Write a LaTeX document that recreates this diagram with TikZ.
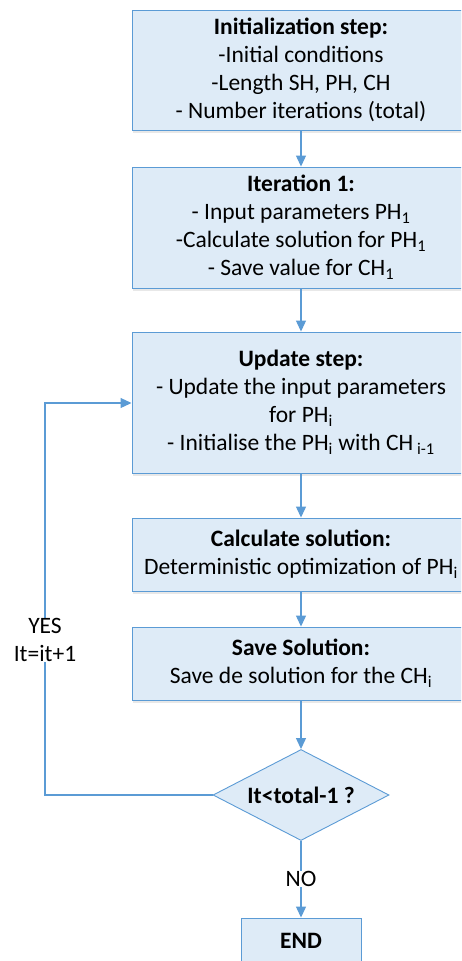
\documentclass[tikz,border=0pt]{standalone}
\usepackage{fontspec}
\setmainfont{Carlito}
\usetikzlibrary{arrows.meta,shapes.geometric,shadows}
\definecolor{flowline}{HTML}{5B9BD5}
\definecolor{flowfill}{HTML}{DEEBF7}
\tikzset{
  stepbox/.style={draw=flowline, fill=flowfill, line width=0.9pt, inner sep=0pt,
    align=center, font=\fontsize{23.5}{28}\selectfont,
    drop shadow={opacity=0.18, shadow xshift=1pt, shadow yshift=-2.5pt}},
  decision/.style={diamond, draw=flowline, fill=flowfill, line width=0.9pt, inner sep=0pt},
  flow/.style={draw=flowline, line width=1.2pt, -{Triangle[length=11pt,width=10pt]}},
  lbl/.style={fill=white, inner sep=0.5pt, align=center, font=\fontsize{23.5}{28}\selectfont}
}
\newcommand{\subx}[1]{\textsubscript{#1}}
\begin{document}
\begin{tikzpicture}[x=1pt,y=-1pt]
\useasboundingbox (0,0) rectangle (461,961);
\clip (0,0) rectangle (461,961);

\node[stepbox, minimum width=338pt, minimum height=120pt] (init) at (301,70)
  {\textbf{Initialization step:}\\-Initial conditions\\-Length SH, PH, CH\\- Number iterations (total)};
\node[stepbox, minimum width=338pt, minimum height=121pt] (iter) at (301,227.5)
  {\textbf{Iteration 1:}\\- Input parameters PH\subx{1}\\-Calculate solution for PH\subx{1}\\- Save value for CH\subx{1}};
\node[stepbox, minimum width=338pt, minimum height=141pt] (upd) at (301,402.5)
  {\textbf{Update step:}\\- Update the input parameters\\for PH\subx{i}\\- Initialise the PH\subx{i} with CH\,\subx{i-1}};
\node[stepbox, minimum width=338pt, minimum height=73pt] (calc) at (301,554.5)
  {\textbf{Calculate solution:}\\Deterministic optimization of PH\subx{i}};
\node[stepbox, minimum width=338pt, minimum height=73pt] (save) at (301,663.5)
  {\textbf{Save Solution:}\\Save de solution for the CH\subx{i}};
\node[decision, minimum width=176pt, minimum height=91pt,
  label={[font=\fontsize{23.5}{28}\selectfont\bfseries, inner sep=0pt]center:It<total-1 ?}] (test) at (301,795) {};
\node[stepbox, minimum width=120pt, minimum height=46pt, font=\fontsize{23.5}{28}\selectfont\bfseries] (end) at (301,941) {END};

\coordinate (loopbot) at (45,795);
\coordinate (looptop) at (45,403);
\coordinate (updin) at (131.5,403);

\draw[flow] (init) -- (iter);
\draw[flow] (iter) -- (upd);
\draw[flow] (upd) -- (calc);
\draw[flow] (calc) -- (save);
\draw[flow] (save) -- (test);
\draw[flow] (test) -- node[lbl, pos=0.5] (no) {NO} (end);
\draw[flow] (test.west) -- (loopbot) -- node[lbl, pos=0.395] (yes) {YES\\It=it+1} (looptop) -- (updin);
\end{tikzpicture}
\end{document}
